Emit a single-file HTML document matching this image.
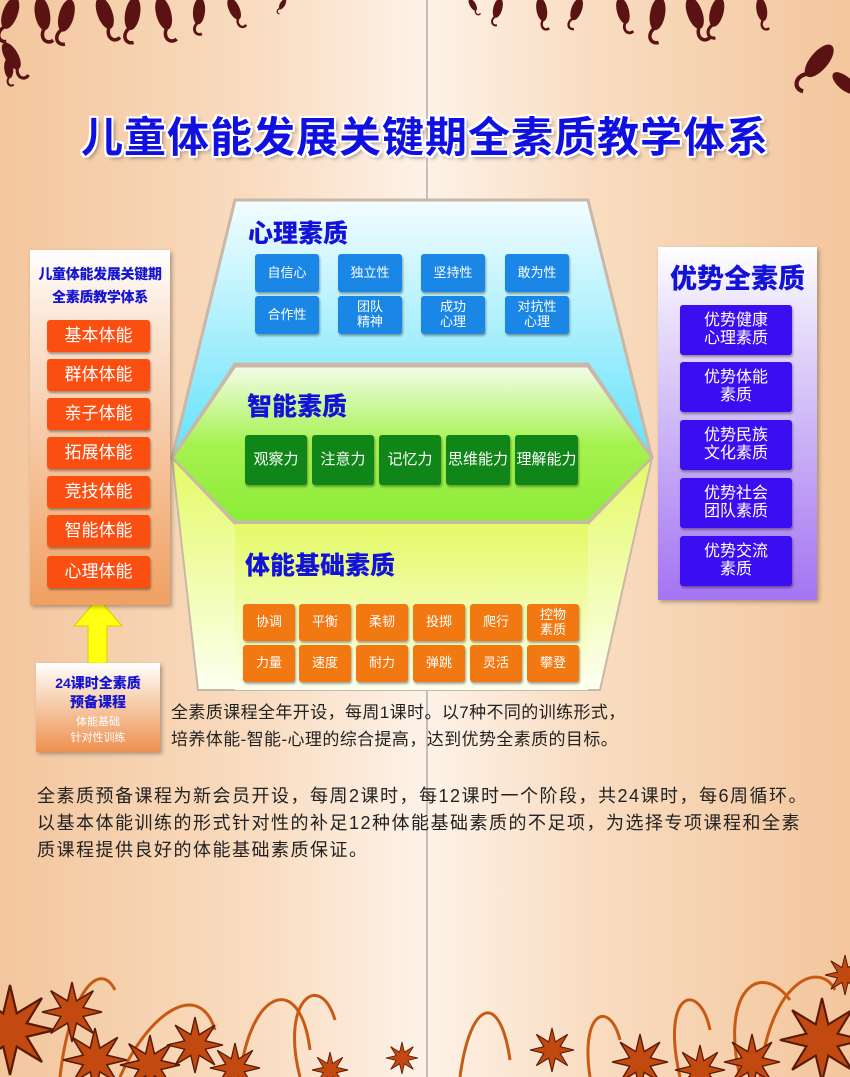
<!DOCTYPE html>
<html><head><meta charset="utf-8">
<style>
*{margin:0;padding:0;box-sizing:border-box}
body{width:850px;height:1077px;overflow:hidden;position:relative;font-family:"Liberation Sans","Noto Sans CJK SC",sans-serif;
background:linear-gradient(90deg,#f3c69d 0%,#f9dcc0 30%,#fdf2e8 50%,#f9dcc0 70%,#f3c69d 100%);}
.abs{position:absolute}
.title{left:0;width:850px;top:104px;text-align:center;font-size:42px;font-weight:bold;color:#1010e0;letter-spacing:1px;
text-shadow:2px 0 0 #fff,-2px 0 0 #fff,0 2px 0 #fff,0 -2px 0 #fff,2px 2px 0 #fff,-2px -2px 0 #fff,2px -2px 0 #fff,-2px 2px 0 #fff,3px 3px 4px rgba(0,0,0,.4);}
.btn{position:absolute;color:#fff;text-align:center;display:flex;align-items:center;justify-content:center;line-height:1.15;border-radius:3px;box-shadow:1px 2px 2px rgba(0,0,0,.35)}
.or{background:#fb4f12;width:103px;height:32px;left:47px;font-size:17px}
.bl{background:#1a86e6;width:64px;height:38px;font-size:13px}
.gr{background:#108618;height:50px;top:435px;font-size:15px}
.og{background:#f27812;width:52px;height:37px;font-size:13px}
.pu{background:#3a0ef0;width:112px;height:50px;left:680px;font-size:16px}
.h{position:absolute;font-weight:900;color:#1313d8;font-size:25px}
.p{position:absolute;color:#222;line-height:27px;white-space:nowrap}
</style></head><body>
<svg class="abs" style="left:0;top:0" width="850" height="1077">
<defs>
<polygon id="st" points="1,0 .37,.15 .71,.71 .15,.37 0,1 -.15,.37 -.71,.71 -.37,.15 -1,0 -.37,-.15 -.71,-.71 -.15,-.37 0,-1 .15,-.37 .71,-.71 .37,-.15"/>
<g id="lf"><ellipse cx="0" cy="14" rx="7" ry="16"/><path d="M0,28 C-8,36 -2,46 6,42" fill="none" stroke-width="3.5"/></g>
<linearGradient id="gb" x1="0" y1="0" x2="0" y2="1"><stop offset="0" stop-color="#f4fdff"/><stop offset="1" stop-color="#62e2fa"/></linearGradient>
<linearGradient id="gg" x1="0" y1="0" x2="0" y2="1"><stop offset="0" stop-color="#f4fde8"/><stop offset=".5" stop-color="#a6f250"/><stop offset="1" stop-color="#8cec38"/></linearGradient>
<linearGradient id="gy" x1="0" y1="0" x2="0" y2="1"><stop offset="0" stop-color="#e4fa66"/><stop offset="1" stop-color="#fdfff0"/></linearGradient>
</defs>
<line x1="427" y1="0" x2="427" y2="1077" stroke="#9a8a80" stroke-width="1"/>
<g fill="#5a1212" stroke="#5a1212">
<use href="#lf" transform="translate(15,0) rotate(20)"/>
<use href="#lf" transform="translate(40,0) rotate(-10)"/>
<use href="#lf" transform="translate(70,2) rotate(15)"/>
<use href="#lf" transform="translate(100,0) rotate(-20)"/>
<use href="#lf" transform="translate(135,0) rotate(10)"/>
<use href="#lf" transform="translate(160,0) rotate(-15)"/>
<use href="#lf" transform="translate(200,0) rotate(5) scale(.8)"/>
<use href="#lf" transform="translate(230,0) rotate(-25) scale(.7)"/>
<use href="#lf" transform="translate(5,45) rotate(-30) scale(.9)"/>
<use href="#lf" transform="translate(8,60) rotate(-5) scale(.6)"/>
<use href="#lf" transform="translate(285,0) rotate(30) scale(.35)"/>
<use href="#lf" transform="translate(470,0) rotate(-30) scale(.4)"/>
<use href="#lf" transform="translate(500,0) rotate(15) scale(.6)"/>
<use href="#lf" transform="translate(540,0) rotate(-10) scale(.7)"/>
<use href="#lf" transform="translate(580,0) rotate(20) scale(.7)"/>
<use href="#lf" transform="translate(620,0) rotate(-15) scale(.8)"/>
<use href="#lf" transform="translate(660,0) rotate(10)"/>
<use href="#lf" transform="translate(690,0) rotate(-20)"/>
<use href="#lf" transform="translate(720,0) rotate(15) scale(.9)"/>
<use href="#lf" transform="translate(760,0) rotate(-10) scale(.7)"/>
<use href="#lf" transform="translate(830,48) rotate(40) scale(1.2)"/>
<use href="#lf" transform="translate(835,75) rotate(-50) scale(.9)"/>
</g>
<polygon points="235,200 588,200 652,458 588,364 235,364 172,458" fill="url(#gb)" stroke="#c9b8a8" stroke-width="3"/>
<polygon points="235,366 588,366 652,458 588,522 235,522 172,458" fill="url(#gg)" stroke="#c9b8a8" stroke-width="3"/>
<polygon points="172,458 235,524 588,524 652,458 600,690 198,690" fill="url(#gy)" stroke="#c9b8a8" stroke-width="2"/>
<rect x="235" y="524" width="353" height="166" fill="url(#gy)"/>
<polygon points="98,598 122,626 107,626 107,665 88,665 88,626 74,626" fill="#ffff10" stroke="#e0c800" stroke-width="1"/>
<g fill="none" stroke="#c85a14" stroke-width="3">
<path d="M60,1077 C70,990 100,960 115,990"/><path d="M120,1077 C150,1010 200,980 215,1030"/><path d="M240,1077 C250,990 300,970 310,1050"/>
<path d="M300,1077 C280,1000 320,970 335,1020"/><path d="M460,1077 C470,1000 500,990 510,1060"/><path d="M680,1077 C660,990 700,980 710,1030"/>
<path d="M740,1077 C720,990 760,960 790,1000"/><path d="M760,1077 C770,980 820,960 835,990"/><path d="M590,1077 C580,1010 610,1000 620,1040"/>
</g>
<g fill="#c24a10" stroke="#5a1a08" stroke-width=".05">
<use href="#st" transform="translate(10,1030) scale(45)"/>
<use href="#st" transform="translate(72,1012) scale(30)"/>
<use href="#st" transform="translate(95,1060) scale(32)"/>
<use href="#st" transform="translate(150,1065) scale(30)"/>
<use href="#st" transform="translate(195,1045) scale(28)"/>
<use href="#st" transform="translate(235,1068) scale(25)"/>
<use href="#st" transform="translate(330,1070) scale(18)"/>
<use href="#st" transform="translate(402,1058) scale(16)"/>
<use href="#st" transform="translate(552,1050) scale(22)"/>
<use href="#st" transform="translate(640,1062) scale(28)"/>
<use href="#st" transform="translate(700,1070) scale(25)"/>
<use href="#st" transform="translate(752,1062) scale(28)"/>
<use href="#st" transform="translate(822,1040) scale(42)"/>
<use href="#st" transform="translate(845,975) scale(20)"/>
</g>
</svg>

<div class="abs title">儿童体能发展关键期全素质教学体系</div>

<div class="abs" style="left:30px;top:250px;width:140px;height:355px;background:linear-gradient(#fff 0%,#fbe6d4 20%,#f0a062 100%);box-shadow:2px 2px 4px rgba(0,0,0,.3)"></div>
<div class="abs" style="left:30px;top:263px;width:140px;text-align:center;color:#1515d0;font-weight:900;font-size:14px;line-height:23px;letter-spacing:-0.3px">儿童体能发展关键期<br>全素质教学体系</div>
<div class="btn or" style="top:320px">基本体能</div>
<div class="btn or" style="top:359px">群体体能</div>
<div class="btn or" style="top:398px">亲子体能</div>
<div class="btn or" style="top:437px">拓展体能</div>
<div class="btn or" style="top:476px">竞技体能</div>
<div class="btn or" style="top:515px">智能体能</div>
<div class="btn or" style="top:556px">心理体能</div>

<div class="abs" style="left:36px;top:663px;width:124px;height:89px;background:linear-gradient(#fff 0%,#f8d8bc 35%,#ee9050 100%);box-shadow:2px 2px 4px rgba(0,0,0,.3);text-align:center">
<div style="color:#1515d0;font-weight:900;font-size:14px;line-height:19px;margin-top:11px">24课时全素质<br>预备课程</div>
<div style="color:#fff;font-size:11px;line-height:16px;margin-top:2px">体能基础<br>针对性训练</div>
</div>

<div class="h" style="left:248px;top:214px">心理素质</div>
<div class="btn bl" style="left:255px;top:254px">自信心</div>
<div class="btn bl" style="left:338px;top:254px">独立性</div>
<div class="btn bl" style="left:421px;top:254px">坚持性</div>
<div class="btn bl" style="left:505px;top:254px">敢为性</div>
<div class="btn bl" style="left:255px;top:296px">合作性</div>
<div class="btn bl" style="left:338px;top:296px">团队<br>精神</div>
<div class="btn bl" style="left:421px;top:296px">成功<br>心理</div>
<div class="btn bl" style="left:505px;top:296px">对抗性<br>心理</div>

<div class="h" style="left:247px;top:387px">智能素质</div>
<div class="btn gr" style="left:245px;width:62px">观察力</div>
<div class="btn gr" style="left:312px;width:62px">注意力</div>
<div class="btn gr" style="left:379px;width:62px">记忆力</div>
<div class="btn gr" style="left:446px;width:64px">思维能力</div>
<div class="btn gr" style="left:515px;width:63px">理解能力</div>

<div class="h" style="left:245px;top:546px">体能基础素质</div>
<div class="btn og" style="left:243px;top:604px">协调</div>
<div class="btn og" style="left:299px;top:604px">平衡</div>
<div class="btn og" style="left:356px;top:604px">柔韧</div>
<div class="btn og" style="left:413px;top:604px">投掷</div>
<div class="btn og" style="left:470px;top:604px">爬行</div>
<div class="btn og" style="left:527px;top:604px">控物<br>素质</div>
<div class="btn og" style="left:243px;top:645px">力量</div>
<div class="btn og" style="left:299px;top:645px">速度</div>
<div class="btn og" style="left:356px;top:645px">耐力</div>
<div class="btn og" style="left:413px;top:645px">弹跳</div>
<div class="btn og" style="left:470px;top:645px">灵活</div>
<div class="btn og" style="left:527px;top:645px">攀登</div>

<div class="abs" style="left:658px;top:247px;width:159px;height:353px;background:linear-gradient(#fff 0%,#e8e0fa 20%,#a474f2 100%);box-shadow:2px 2px 4px rgba(0,0,0,.3)"></div>
<div class="abs" style="left:658px;top:257px;width:159px;text-align:center;color:#1313d8;font-weight:900;font-size:27px">优势全素质</div>
<div class="btn pu" style="top:305px">优势健康<br>心理素质</div>
<div class="btn pu" style="top:362px">优势体能<br>素质</div>
<div class="btn pu" style="top:420px">优势民族<br>文化素质</div>
<div class="btn pu" style="top:478px">优势社会<br>团队素质</div>
<div class="btn pu" style="top:536px">优势交流<br>素质</div>

<div class="p" style="left:171px;top:699px;font-size:17px;letter-spacing:0.4px">全素质课程全年开设，每周1课时。以7种不同的训练形式，<br>培养体能-智能-心理的综合提高，达到优势全素质的目标。</div>
<div class="p" style="left:37px;top:783px;font-size:18px;letter-spacing:1.5px">全素质预备课程为新会员开设，每周2课时，每12课时一个阶段，共24课时，每6周循环。<br>以基本体能训练的形式针对性的补足12种体能基础素质的不足项，为选择专项课程和全素<br>质课程提供良好的体能基础素质保证。</div>
</body></html>
